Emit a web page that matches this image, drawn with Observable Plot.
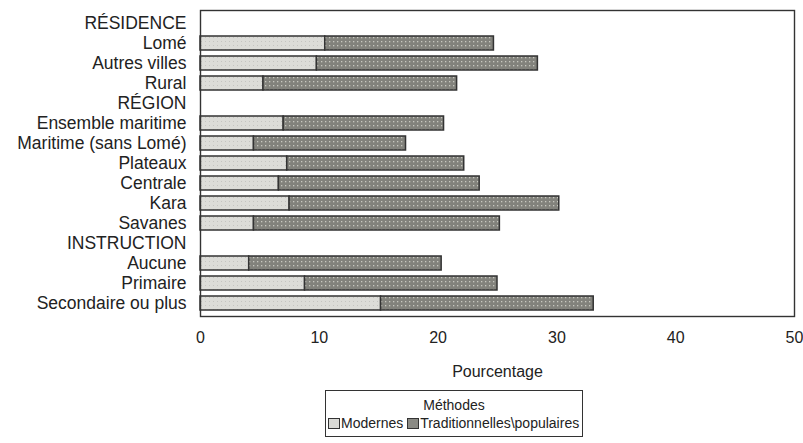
<!DOCTYPE html>
<html>
<head>
<meta charset="utf-8">
<script src="https://cdn.jsdelivr.net/npm/d3@7"></script>
<script src="https://cdn.jsdelivr.net/npm/@observablehq/plot@0.6"></script>
<style>
  html, body { margin: 0; padding: 0; background: #fff; }
  body { position: relative; width: 803px; height: 443px; font-family: "Liberation Sans", Arial, sans-serif; color: #222; }
  #chart svg { display: block; }
  #legend { position: absolute; left: 325px; top: 390px; width: 258px; height: 47px; border: 1.5px solid #333; box-sizing: border-box; font-size: 14px; }
  #legend .title { text-align: center; margin-top: 6px; line-height: 16px; }
  #legend .row { margin-left: 2px; margin-top: 2px; line-height: 17px; white-space: nowrap; }
  #legend .sw { display: inline-block; width: 10px; height: 9px; border: 1px solid #333; vertical-align: -1px; margin-right: 1px; }
</style>
</head>
<body>
<div id="chart"></div>
<div id="legend">
  <div class="title">Méthodes</div>
  <div class="row"><span class="sw" style="background:#dadad6"></span>Modernes <span class="sw" style="background:#8a8a84"></span>Traditionnelles\populaires</div>
</div>
<script>
const categories = ["RÉSIDENCE", "Lomé", "Autres villes", "Rural", "RÉGION", "Ensemble maritime", "Maritime (sans Lomé)", "Plateaux", "Centrale", "Kara", "Savanes", "INSTRUCTION", "Aucune", "Primaire", "Secondaire ou plus"];
const barCategories = ["Lomé", "Autres villes", "Rural", "Ensemble maritime", "Maritime (sans Lomé)", "Plateaux", "Centrale", "Kara", "Savanes", "Aucune", "Primaire", "Secondaire ou plus"];
const methods = ["Modernes", "Traditionnelles\\populaires"];
const modernes = [10.5, 9.8, 5.3, 7.0, 4.5, 7.3, 6.6, 7.5, 4.5, 4.1, 8.8, 15.2];
const traditionnelles = [14.2, 18.6, 16.3, 13.5, 12.8, 14.9, 16.9, 22.7, 20.7, 16.2, 16.2, 17.9];
const xTicks = [0, 10, 20, 30, 40, 50];

const data = [];
barCategories.forEach((c, i) => {
  data.push({cat: c, method: methods[0], value: modernes[i]});
  data.push({cat: c, method: methods[1], value: traditionnelles[i]});
});

const chart = Plot.plot({
  width: 803,
  height: 388,
  marginLeft: 200,
  marginRight: 9,
  marginTop: 10,
  marginBottom: 72,
  style: {fontFamily: "Liberation Sans, Arial, sans-serif", color: "#222", background: "#fff"},
  x: {domain: [0, 50]},
  y: {domain: categories, padding: 0.28},
  color: {domain: methods, range: ["url(#pModernes)", "url(#pTrad)"]},
  marks: [
    Plot.barX(data, Plot.stackX({x: "value", y: "cat", fill: "method", stroke: "#333", strokeWidth: 1.5, order: null})),
    Plot.frame({stroke: "#333", strokeWidth: 1.4}),
    Plot.axisX({ticks: xTicks, tickSize: 0, tickPadding: 15, fontSize: 16, label: "Pourcentage", labelAnchor: "center", labelArrow: "none", labelOffset: 60}),
    Plot.axisY({tickSize: 0, tickPadding: 14, fontSize: 17.5, label: null})
  ]
});

const ns = "http://www.w3.org/2000/svg";
const defs = document.createElementNS(ns, "defs");
defs.innerHTML = `
  <pattern id="pModernes" patternUnits="userSpaceOnUse" width="4" height="4">
    <rect width="4" height="4" fill="#dcdcd8"></rect>
    <rect x="1" y="1" width="1" height="1" fill="#c4c4c0"></rect>
  </pattern>
  <pattern id="pTrad" patternUnits="userSpaceOnUse" width="4" height="4">
    <rect width="4" height="4" fill="#82827c"></rect>
    <rect x="1" y="1" width="1.3" height="1.3" fill="#c8c8c0"></rect>
  </pattern>`;
chart.insertBefore(defs, chart.firstChild);
document.getElementById("chart").appendChild(chart);
</script>
</body>
</html>
